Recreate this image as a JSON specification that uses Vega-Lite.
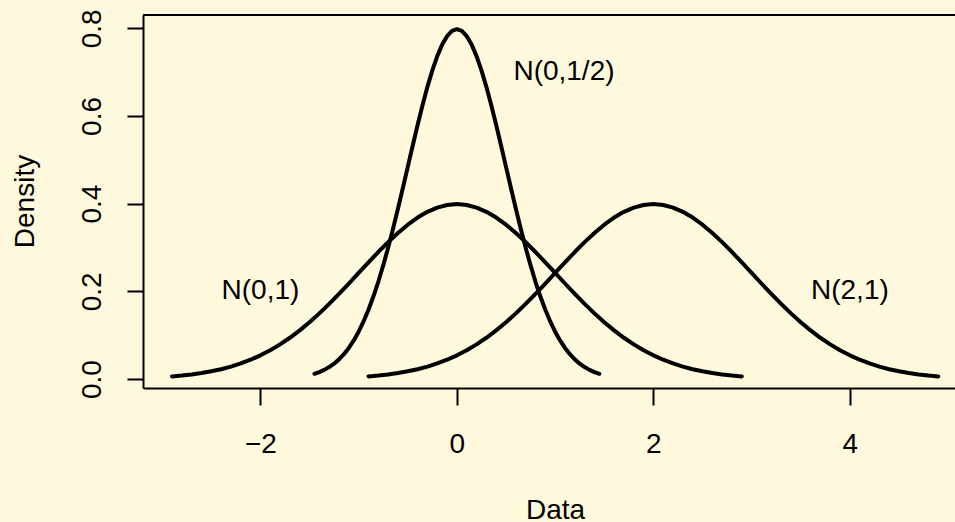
{
  "$schema": "https://vega.github.io/schema/vega-lite/v6.json",
  "width": 812,
  "height": 373,
  "autosize": {"type": "none"},
  "padding": {"left": 143, "top": 15, "right": 0, "bottom": 134},
  "background": "#FEF8DD",
  "config": {
    "view": {"stroke": null},
    "font": "Liberation Sans",
    "axis": {
      "grid": false,
      "domainColor": "black",
      "domainWidth": 2,
      "tickColor": "black",
      "tickWidth": 2,
      "labelColor": "black",
      "labelFontSize": 28,
      "labelFont": "Liberation Sans",
      "titleColor": "black",
      "titleFontSize": 28,
      "titleFontWeight": "normal",
      "titleFont": "Liberation Sans",
      "labelFlush": false,
      "labelOverlap": false
    }
  },
  "datasets": {
    "curves": [
      {"c": "N(0,1)", "x": -2.9, "y": 0.00595},
      {"c": "N(0,1)", "x": -2.8, "y": 0.00792},
      {"c": "N(0,1)", "x": -2.7, "y": 0.01042},
      {"c": "N(0,1)", "x": -2.6, "y": 0.01358},
      {"c": "N(0,1)", "x": -2.5, "y": 0.01753},
      {"c": "N(0,1)", "x": -2.4, "y": 0.02239},
      {"c": "N(0,1)", "x": -2.3, "y": 0.02833},
      {"c": "N(0,1)", "x": -2.2, "y": 0.03547},
      {"c": "N(0,1)", "x": -2.1, "y": 0.04398},
      {"c": "N(0,1)", "x": -2.0, "y": 0.05399},
      {"c": "N(0,1)", "x": -1.9, "y": 0.06562},
      {"c": "N(0,1)", "x": -1.8, "y": 0.07895},
      {"c": "N(0,1)", "x": -1.7, "y": 0.09405},
      {"c": "N(0,1)", "x": -1.6, "y": 0.11092},
      {"c": "N(0,1)", "x": -1.5, "y": 0.12952},
      {"c": "N(0,1)", "x": -1.4, "y": 0.14973},
      {"c": "N(0,1)", "x": -1.3, "y": 0.17137},
      {"c": "N(0,1)", "x": -1.2, "y": 0.19419},
      {"c": "N(0,1)", "x": -1.1, "y": 0.21785},
      {"c": "N(0,1)", "x": -1.0, "y": 0.24197},
      {"c": "N(0,1)", "x": -0.9, "y": 0.26609},
      {"c": "N(0,1)", "x": -0.8, "y": 0.28969},
      {"c": "N(0,1)", "x": -0.7, "y": 0.31225},
      {"c": "N(0,1)", "x": -0.6, "y": 0.33322},
      {"c": "N(0,1)", "x": -0.5, "y": 0.35207},
      {"c": "N(0,1)", "x": -0.4, "y": 0.36827},
      {"c": "N(0,1)", "x": -0.3, "y": 0.38139},
      {"c": "N(0,1)", "x": -0.2, "y": 0.39104},
      {"c": "N(0,1)", "x": -0.1, "y": 0.39695},
      {"c": "N(0,1)", "x": 0.0, "y": 0.39894},
      {"c": "N(0,1)", "x": 0.1, "y": 0.39695},
      {"c": "N(0,1)", "x": 0.2, "y": 0.39104},
      {"c": "N(0,1)", "x": 0.3, "y": 0.38139},
      {"c": "N(0,1)", "x": 0.4, "y": 0.36827},
      {"c": "N(0,1)", "x": 0.5, "y": 0.35207},
      {"c": "N(0,1)", "x": 0.6, "y": 0.33322},
      {"c": "N(0,1)", "x": 0.7, "y": 0.31225},
      {"c": "N(0,1)", "x": 0.8, "y": 0.28969},
      {"c": "N(0,1)", "x": 0.9, "y": 0.26609},
      {"c": "N(0,1)", "x": 1.0, "y": 0.24197},
      {"c": "N(0,1)", "x": 1.1, "y": 0.21785},
      {"c": "N(0,1)", "x": 1.2, "y": 0.19419},
      {"c": "N(0,1)", "x": 1.3, "y": 0.17137},
      {"c": "N(0,1)", "x": 1.4, "y": 0.14973},
      {"c": "N(0,1)", "x": 1.5, "y": 0.12952},
      {"c": "N(0,1)", "x": 1.6, "y": 0.11092},
      {"c": "N(0,1)", "x": 1.7, "y": 0.09405},
      {"c": "N(0,1)", "x": 1.8, "y": 0.07895},
      {"c": "N(0,1)", "x": 1.9, "y": 0.06562},
      {"c": "N(0,1)", "x": 2.0, "y": 0.05399},
      {"c": "N(0,1)", "x": 2.1, "y": 0.04398},
      {"c": "N(0,1)", "x": 2.2, "y": 0.03547},
      {"c": "N(0,1)", "x": 2.3, "y": 0.02833},
      {"c": "N(0,1)", "x": 2.4, "y": 0.02239},
      {"c": "N(0,1)", "x": 2.5, "y": 0.01753},
      {"c": "N(0,1)", "x": 2.6, "y": 0.01358},
      {"c": "N(0,1)", "x": 2.7, "y": 0.01042},
      {"c": "N(0,1)", "x": 2.8, "y": 0.00792},
      {"c": "N(0,1)", "x": 2.9, "y": 0.00595},

      {"c": "N(0,1/2)", "x": -1.45, "y": 0.0119},
      {"c": "N(0,1/2)", "x": -1.4, "y": 0.01584},
      {"c": "N(0,1/2)", "x": -1.35, "y": 0.02084},
      {"c": "N(0,1/2)", "x": -1.3, "y": 0.02716},
      {"c": "N(0,1/2)", "x": -1.25, "y": 0.03506},
      {"c": "N(0,1/2)", "x": -1.2, "y": 0.04478},
      {"c": "N(0,1/2)", "x": -1.15, "y": 0.05666},
      {"c": "N(0,1/2)", "x": -1.1, "y": 0.07094},
      {"c": "N(0,1/2)", "x": -1.05, "y": 0.08796},
      {"c": "N(0,1/2)", "x": -1.0, "y": 0.10798},
      {"c": "N(0,1/2)", "x": -0.95, "y": 0.13124},
      {"c": "N(0,1/2)", "x": -0.9, "y": 0.1579},
      {"c": "N(0,1/2)", "x": -0.85, "y": 0.1881},
      {"c": "N(0,1/2)", "x": -0.8, "y": 0.22184},
      {"c": "N(0,1/2)", "x": -0.75, "y": 0.25904},
      {"c": "N(0,1/2)", "x": -0.7, "y": 0.29946},
      {"c": "N(0,1/2)", "x": -0.65, "y": 0.34274},
      {"c": "N(0,1/2)", "x": -0.6, "y": 0.38838},
      {"c": "N(0,1/2)", "x": -0.55, "y": 0.4357},
      {"c": "N(0,1/2)", "x": -0.5, "y": 0.48394},
      {"c": "N(0,1/2)", "x": -0.45, "y": 0.53218},
      {"c": "N(0,1/2)", "x": -0.4, "y": 0.57938},
      {"c": "N(0,1/2)", "x": -0.35, "y": 0.6245},
      {"c": "N(0,1/2)", "x": -0.3, "y": 0.66644},
      {"c": "N(0,1/2)", "x": -0.25, "y": 0.70414},
      {"c": "N(0,1/2)", "x": -0.2, "y": 0.73654},
      {"c": "N(0,1/2)", "x": -0.15, "y": 0.76278},
      {"c": "N(0,1/2)", "x": -0.1, "y": 0.78208},
      {"c": "N(0,1/2)", "x": -0.05, "y": 0.7939},
      {"c": "N(0,1/2)", "x": 0.0, "y": 0.79788},
      {"c": "N(0,1/2)", "x": 0.05, "y": 0.7939},
      {"c": "N(0,1/2)", "x": 0.1, "y": 0.78208},
      {"c": "N(0,1/2)", "x": 0.15, "y": 0.76278},
      {"c": "N(0,1/2)", "x": 0.2, "y": 0.73654},
      {"c": "N(0,1/2)", "x": 0.25, "y": 0.70414},
      {"c": "N(0,1/2)", "x": 0.3, "y": 0.66644},
      {"c": "N(0,1/2)", "x": 0.35, "y": 0.6245},
      {"c": "N(0,1/2)", "x": 0.4, "y": 0.57938},
      {"c": "N(0,1/2)", "x": 0.45, "y": 0.53218},
      {"c": "N(0,1/2)", "x": 0.5, "y": 0.48394},
      {"c": "N(0,1/2)", "x": 0.55, "y": 0.4357},
      {"c": "N(0,1/2)", "x": 0.6, "y": 0.38838},
      {"c": "N(0,1/2)", "x": 0.65, "y": 0.34274},
      {"c": "N(0,1/2)", "x": 0.7, "y": 0.29946},
      {"c": "N(0,1/2)", "x": 0.75, "y": 0.25904},
      {"c": "N(0,1/2)", "x": 0.8, "y": 0.22184},
      {"c": "N(0,1/2)", "x": 0.85, "y": 0.1881},
      {"c": "N(0,1/2)", "x": 0.9, "y": 0.1579},
      {"c": "N(0,1/2)", "x": 0.95, "y": 0.13124},
      {"c": "N(0,1/2)", "x": 1.0, "y": 0.10798},
      {"c": "N(0,1/2)", "x": 1.05, "y": 0.08796},
      {"c": "N(0,1/2)", "x": 1.1, "y": 0.07094},
      {"c": "N(0,1/2)", "x": 1.15, "y": 0.05666},
      {"c": "N(0,1/2)", "x": 1.2, "y": 0.04478},
      {"c": "N(0,1/2)", "x": 1.25, "y": 0.03506},
      {"c": "N(0,1/2)", "x": 1.3, "y": 0.02716},
      {"c": "N(0,1/2)", "x": 1.35, "y": 0.02084},
      {"c": "N(0,1/2)", "x": 1.4, "y": 0.01584},
      {"c": "N(0,1/2)", "x": 1.45, "y": 0.0119},

      {"c": "N(2,1)", "x": -0.9, "y": 0.00595},
      {"c": "N(2,1)", "x": -0.8, "y": 0.00792},
      {"c": "N(2,1)", "x": -0.7, "y": 0.01042},
      {"c": "N(2,1)", "x": -0.6, "y": 0.01358},
      {"c": "N(2,1)", "x": -0.5, "y": 0.01753},
      {"c": "N(2,1)", "x": -0.4, "y": 0.02239},
      {"c": "N(2,1)", "x": -0.3, "y": 0.02833},
      {"c": "N(2,1)", "x": -0.2, "y": 0.03547},
      {"c": "N(2,1)", "x": -0.1, "y": 0.04398},
      {"c": "N(2,1)", "x": 0.0, "y": 0.05399},
      {"c": "N(2,1)", "x": 0.1, "y": 0.06562},
      {"c": "N(2,1)", "x": 0.2, "y": 0.07895},
      {"c": "N(2,1)", "x": 0.3, "y": 0.09405},
      {"c": "N(2,1)", "x": 0.4, "y": 0.11092},
      {"c": "N(2,1)", "x": 0.5, "y": 0.12952},
      {"c": "N(2,1)", "x": 0.6, "y": 0.14973},
      {"c": "N(2,1)", "x": 0.7, "y": 0.17137},
      {"c": "N(2,1)", "x": 0.8, "y": 0.19419},
      {"c": "N(2,1)", "x": 0.9, "y": 0.21785},
      {"c": "N(2,1)", "x": 1.0, "y": 0.24197},
      {"c": "N(2,1)", "x": 1.1, "y": 0.26609},
      {"c": "N(2,1)", "x": 1.2, "y": 0.28969},
      {"c": "N(2,1)", "x": 1.3, "y": 0.31225},
      {"c": "N(2,1)", "x": 1.4, "y": 0.33322},
      {"c": "N(2,1)", "x": 1.5, "y": 0.35207},
      {"c": "N(2,1)", "x": 1.6, "y": 0.36827},
      {"c": "N(2,1)", "x": 1.7, "y": 0.38139},
      {"c": "N(2,1)", "x": 1.8, "y": 0.39104},
      {"c": "N(2,1)", "x": 1.9, "y": 0.39695},
      {"c": "N(2,1)", "x": 2.0, "y": 0.39894},
      {"c": "N(2,1)", "x": 2.1, "y": 0.39695},
      {"c": "N(2,1)", "x": 2.2, "y": 0.39104},
      {"c": "N(2,1)", "x": 2.3, "y": 0.38139},
      {"c": "N(2,1)", "x": 2.4, "y": 0.36827},
      {"c": "N(2,1)", "x": 2.5, "y": 0.35207},
      {"c": "N(2,1)", "x": 2.6, "y": 0.33322},
      {"c": "N(2,1)", "x": 2.7, "y": 0.31225},
      {"c": "N(2,1)", "x": 2.8, "y": 0.28969},
      {"c": "N(2,1)", "x": 2.9, "y": 0.26609},
      {"c": "N(2,1)", "x": 3.0, "y": 0.24197},
      {"c": "N(2,1)", "x": 3.1, "y": 0.21785},
      {"c": "N(2,1)", "x": 3.2, "y": 0.19419},
      {"c": "N(2,1)", "x": 3.3, "y": 0.17137},
      {"c": "N(2,1)", "x": 3.4, "y": 0.14973},
      {"c": "N(2,1)", "x": 3.5, "y": 0.12952},
      {"c": "N(2,1)", "x": 3.6, "y": 0.11092},
      {"c": "N(2,1)", "x": 3.7, "y": 0.09405},
      {"c": "N(2,1)", "x": 3.8, "y": 0.07895},
      {"c": "N(2,1)", "x": 3.9, "y": 0.06562},
      {"c": "N(2,1)", "x": 4.0, "y": 0.05399},
      {"c": "N(2,1)", "x": 4.1, "y": 0.04398},
      {"c": "N(2,1)", "x": 4.2, "y": 0.03547},
      {"c": "N(2,1)", "x": 4.3, "y": 0.02833},
      {"c": "N(2,1)", "x": 4.4, "y": 0.02239},
      {"c": "N(2,1)", "x": 4.5, "y": 0.01753},
      {"c": "N(2,1)", "x": 4.6, "y": 0.01358},
      {"c": "N(2,1)", "x": 4.7, "y": 0.01042},
      {"c": "N(2,1)", "x": 4.8, "y": 0.00792},
      {"c": "N(2,1)", "x": 4.9, "y": 0.00595}
    ],
    "labels": [
      {"label": "N(0,1)", "x": -2.0, "y": 0.2},
      {"label": "N(0,1/2)", "x": 1.09, "y": 0.7},
      {"label": "N(2,1)", "x": 4.0, "y": 0.2}
    ]
  },
  "layer": [
    {
      "data": {"name": "curves"},
      "mark": {"type": "line", "color": "black", "strokeWidth": 4, "strokeCap": "round", "strokeJoin": "round"},
      "encoding": {
        "x": {
          "field": "x", "type": "quantitative",
          "scale": {"domain": [-3.195, 5.07], "nice": false, "zero": false},
          "axis": {
            "values": [-2, 0, 2, 4],
            "format": "d",
            "tickSize": 17,
            "labelPadding": 25,
            "labelBaseline": "top",
            "title": "Data",
            "titleX": 412,
            "titleY": 130,
            "titleAlign": "center",
            "titleBaseline": "alphabetic"
          }
        },
        "y": {
          "field": "y", "type": "quantitative",
          "scale": {"domain": [-0.0205, 0.8303], "nice": false, "zero": false},
          "axis": {
            "values": [0, 0.2, 0.4, 0.6, 0.8],
            "format": ".1f",
            "tickSize": 16,
            "labelAngle": 270,
            "labelAlign": "center",
            "labelBaseline": "alphabetic",
            "labelPadding": 27,
            "title": "Density",
            "titleAngle": 270,
            "titleX": -110,
            "titleY": 186,
            "titleAlign": "center",
            "titleBaseline": "alphabetic"
          }
        },
        "detail": {"field": "c"}
      }
    },
    {
      "data": {"name": "labels"},
      "mark": {"type": "text", "fontSize": 28, "color": "black", "align": "center", "baseline": "middle", "font": "Liberation Sans"},
      "encoding": {
        "x": {"field": "x", "type": "quantitative"},
        "y": {"field": "y", "type": "quantitative"},
        "text": {"field": "label"}
      }
    },
    {
      "data": {"values": [{}]},
      "mark": {"type": "rule", "color": "black", "strokeWidth": 2},
      "encoding": {"y": {"datum": 0.8303}}
    }
  ]
}
